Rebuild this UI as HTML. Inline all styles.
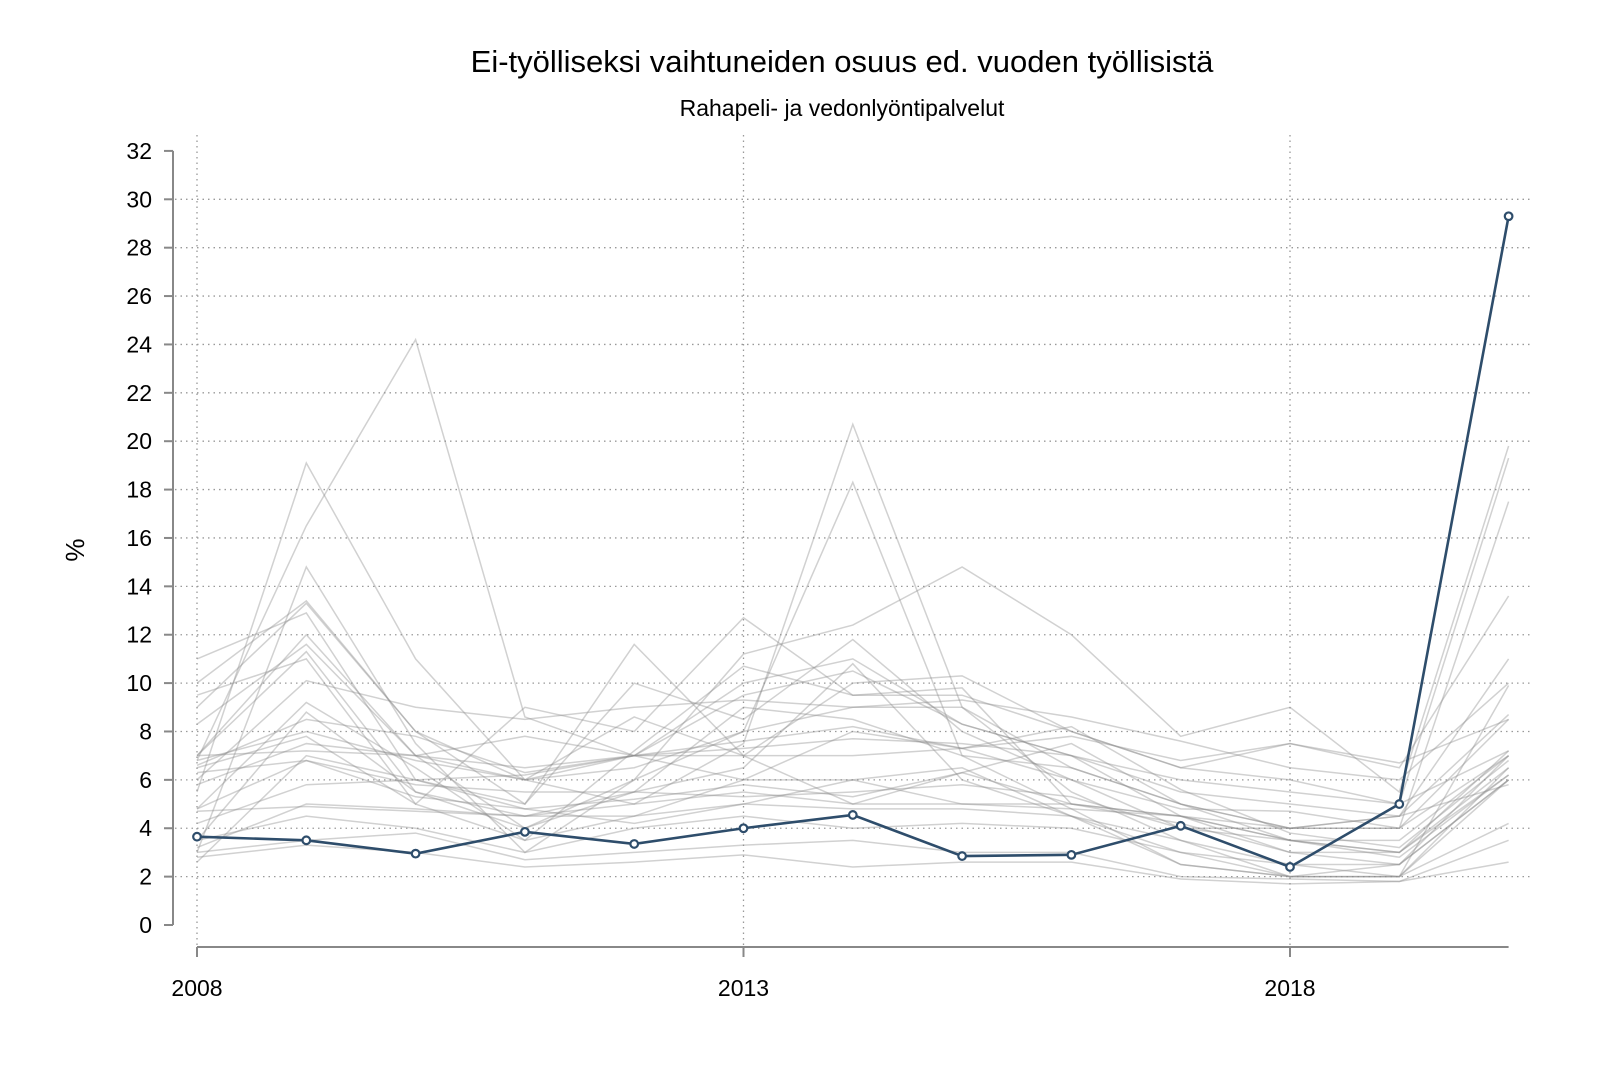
<!DOCTYPE html>
<html><head><meta charset="utf-8"><style>
html,body{margin:0;padding:0;background:#fff;}
svg{display:block;font-family:"Liberation Sans",Arial,sans-serif;}
</style></head><body>
<svg id="s" width="1600" height="1067" viewBox="0 0 1600 1067" xmlns="http://www.w3.org/2000/svg">
<rect width="1600" height="1067" fill="#fff"/>
<text x="842" y="72" font-size="31" text-anchor="middle" fill="#000">Ei-työlliseksi vaihtuneiden osuus ed. vuoden työllisistä</text>
<text x="842" y="116" font-size="23" text-anchor="middle" fill="#000">Rahapeli- ja vedonlyöntipalvelut</text>
<text transform="translate(84,550) rotate(-90)" font-size="26" text-anchor="middle" fill="#000">%</text>
<g id="grid"></g><g id="grey"></g><g id="blue"></g><g id="axes"></g>
</svg>
<script>
var ns="http://www.w3.org/2000/svg";
function X(i){return 197+i*109.3;}
function Y(v){return 925-v*24.19;}
function el(p,t,a,txt){var e=document.createElementNS(ns,t);for(var k in a)e.setAttribute(k,a[k]);if(txt!==undefined)e.textContent=txt;document.getElementById(p).appendChild(e);return e;}
for(var v=2;v<=30;v+=2)el("grid","line",{x1:175,x2:1530,y1:Y(v),y2:Y(v),stroke:"#999","stroke-width":1.3,"stroke-dasharray":"1.5 4"});
[0,5,10].forEach(function(i){el("grid","line",{x1:X(i),x2:X(i),y1:135,y2:947,stroke:"#999","stroke-width":1.3,"stroke-dasharray":"1.5 4"});});
var G=[
[6.8,16.5,24.2,8.6,7.0,9.5,10.5,8.3,7.0,4.5,3.0,2.5,7.0],
[5.5,19.1,11.0,6.0,5.0,7.5,20.7,9.0,5.5,3.5,2.0,2.5,6.0],
[3.0,14.8,7.5,3.0,6.0,8.0,18.3,7.0,4.8,2.5,2.0,2.0,6.5],
[7.0,12.0,7.0,4.0,6.0,11.2,12.4,14.8,12.0,7.8,9.0,5.5,19.8],
[10.0,13.4,8.0,5.0,11.6,7.0,10.0,10.3,8.0,6.5,6.0,5.0,19.3],
[11.0,12.9,6.0,5.0,10.0,8.5,11.8,8.0,6.0,4.0,4.0,4.0,17.5],
[9.5,11.0,5.0,9.0,8.0,12.7,9.5,9.5,8.0,6.5,7.5,6.5,13.6],
[8.3,11.6,7.0,6.5,7.0,10.0,11.0,8.3,7.0,5.5,5.0,4.5,11.0],
[6.0,10.1,9.0,8.5,9.0,9.3,9.0,9.3,8.6,7.6,6.5,6.0,10.0],
[7.0,11.3,5.5,4.0,5.5,9.0,8.5,7.0,6.5,5.0,4.0,4.5,8.7],
[6.6,8.5,7.8,6.3,7.0,7.6,8.2,7.3,7.8,6.8,7.5,6.7,8.5],
[4.8,9.2,6.5,3.5,7.2,10.7,9.5,9.8,5.0,4.5,3.5,3.0,7.2],
[6.8,8.0,6.8,6.0,8.6,7.0,5.0,6.3,7.5,5.0,3.5,3.5,7.0],
[5.8,7.5,7.0,7.8,7.0,7.3,7.7,7.5,7.0,6.0,5.5,5.0,7.2],
[2.6,7.0,6.0,6.2,7.0,6.0,8.0,7.3,8.2,5.6,3.8,3.2,6.8],
[4.8,6.8,5.3,4.8,5.2,5.8,5.3,6.3,5.0,4.5,3.5,2.8,6.2],
[3.2,5.0,4.8,4.5,5.0,5.5,5.0,5.0,4.8,4.5,4.0,4.5,5.8],
[4.7,4.9,4.7,4.5,4.5,5.0,4.8,4.8,4.5,3.5,2.5,2.5,6.0],
[3.5,4.5,4.0,3.0,4.0,4.5,4.0,4.2,4.0,3.0,2.0,2.0,4.2],
[3.0,3.5,3.8,2.7,3.0,3.3,3.5,3.0,3.0,2.0,1.9,1.8,3.5],
[2.8,3.3,3.0,2.4,2.6,2.9,2.4,2.6,2.6,1.9,1.7,1.8,2.6],
[6.5,7.8,5.0,3.5,4.5,6.0,6.0,6.5,4.5,3.0,2.5,2.0,9.9],
[9.0,13.3,8.0,6.0,6.5,8.0,9.0,9.0,6.5,5.0,4.0,4.0,8.5],
[3.5,8.8,5.5,4.5,5.5,6.5,10.8,6.0,4.5,2.5,2.0,2.0,6.0],
[7.0,7.2,7.0,6.0,7.0,7.0,7.0,7.3,6.0,4.8,4.7,4.0,7.0],
[6.3,6.8,5.8,5.5,5.5,5.3,5.5,5.8,5.3,4.0,3.5,3.0,6.5],
[4.2,5.8,6.0,4.8,4.2,5.0,6.0,5.0,5.0,4.2,3.0,3.0,6.2]];
G.forEach(function(a){el("grey","polyline",{points:a.map(function(v,i){return X(i)+","+Y(v);}).join(" "),fill:"none",stroke:"#8c8c8c","stroke-opacity":0.4,"stroke-width":1.5});});
var B=[3.65,3.5,2.95,3.85,3.35,4.0,4.55,2.85,2.9,4.1,2.4,5.0,29.3];
el("blue","polyline",{points:B.map(function(v,i){return X(i)+","+Y(v);}).join(" "),fill:"none",stroke:"#2e4d6b","stroke-width":2.6});
B.forEach(function(v,i){el("blue","circle",{cx:X(i),cy:Y(v),r:3.8,fill:"#fff",stroke:"#2e4d6b","stroke-width":2.2});});
el("axes","line",{x1:173,x2:173,y1:Y(32),y2:Y(0),stroke:"#888","stroke-width":2});
for(var v=0;v<=32;v+=2){el("axes","line",{x1:164,x2:173,y1:Y(v),y2:Y(v),stroke:"#888","stroke-width":2});el("axes","text",{x:152,y:Y(v)+8,"font-size":23,"text-anchor":"end",fill:"#000"},String(v));}
el("axes","line",{x1:X(0),x2:X(12),y1:947,y2:947,stroke:"#888","stroke-width":2});
[[0,"2008"],[5,"2013"],[10,"2018"]].forEach(function(t){el("axes","line",{x1:X(t[0]),x2:X(t[0]),y1:947,y2:957,stroke:"#888","stroke-width":2});el("axes","text",{x:X(t[0]),y:996,"font-size":23,"text-anchor":"middle",fill:"#000"},t[1]);});
</script>
</body></html>
